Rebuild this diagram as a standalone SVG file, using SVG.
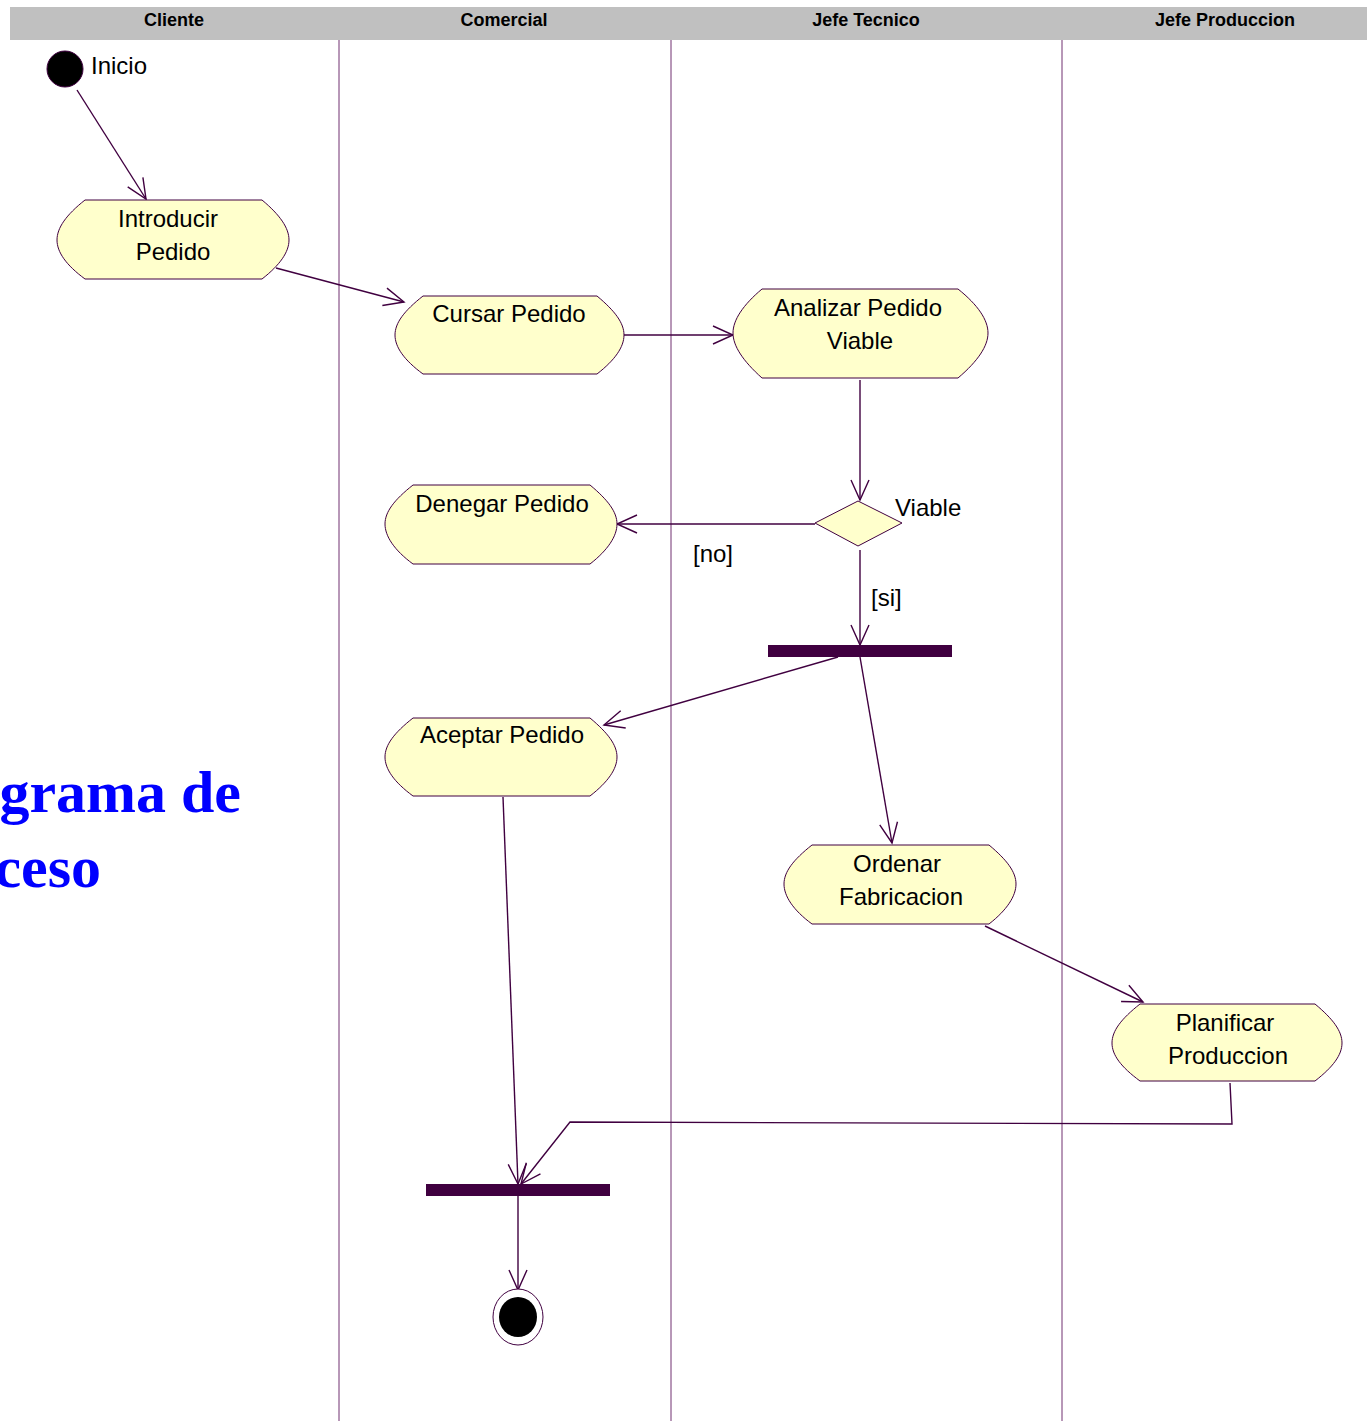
<svg xmlns="http://www.w3.org/2000/svg" width="1367" height="1421" viewBox="0 0 1367 1421">
<style>
.hdr{font-family:"Liberation Sans",Arial,sans-serif;font-weight:bold;font-size:18px;fill:#000;text-anchor:middle}
.lbl{font-family:"Liberation Sans",Arial,sans-serif;font-size:24px;fill:#000;text-anchor:middle}
.free{font-family:"Liberation Sans",Arial,sans-serif;font-size:24px;fill:#000}
.act{fill:#FFFFCC;stroke:#400040;stroke-width:1}
.lane{stroke:#703070;stroke-width:1}
.con{fill:none;stroke:#400040;stroke-width:1.4}
.bar{fill:#400040}
.big{font-family:"Liberation Serif","Times New Roman",serif;font-weight:bold;font-size:60px;fill:#0000FF;text-anchor:end}
</style>
<defs>
<marker id="arr" viewBox="-22 -11 24 22" refX="0" refY="0" markerWidth="24" markerHeight="22" markerUnits="userSpaceOnUse" orient="auto">
<path d="M-20,-9 L0,0 L-20,9" fill="none" stroke="#400040" stroke-width="1.4"/>
</marker>
</defs>
<rect width="1367" height="1421" fill="#FFFFFF"/>
<g id="header">
<rect x="10" y="7" width="1357" height="33" fill="#C0C0C0"/>
<text class="hdr" x="174" y="26">Cliente</text>
<text class="hdr" x="504" y="26">Comercial</text>
<text class="hdr" x="866" y="26">Jefe Tecnico</text>
<text class="hdr" x="1225" y="26">Jefe Produccion</text>
</g>
<g id="lanes">
<line class="lane" x1="339" y1="40" x2="339" y2="1421"/>
<line class="lane" x1="671" y1="40" x2="671" y2="1421"/>
<line class="lane" x1="1062" y1="40" x2="1062" y2="1421"/>
</g>
<g id="title">
<text class="big" x="241" y="812">grama de</text>
<text class="big" x="101" y="887">ceso</text>
</g>
<g id="connectors">
<line class="con" x1="77" y1="90" x2="146" y2="199" marker-end="url(#arr)"/>
<line class="con" x1="276" y1="268" x2="404" y2="302" marker-end="url(#arr)"/>
<line class="con" x1="624" y1="335" x2="733" y2="335" marker-end="url(#arr)"/>
<line class="con" x1="860" y1="380" x2="860" y2="500" marker-end="url(#arr)"/>
<line class="con" x1="815" y1="524" x2="617" y2="524" marker-end="url(#arr)"/>
<line class="con" x1="860" y1="550" x2="860" y2="645" marker-end="url(#arr)" stroke-width="1"/>
<line class="con" x1="838" y1="657" x2="604" y2="725" marker-end="url(#arr)"/>
<line class="con" x1="860" y1="657" x2="892" y2="843" marker-end="url(#arr)"/>
<line class="con" x1="985" y1="926" x2="1143" y2="1002" marker-end="url(#arr)"/>
<line class="con" x1="503" y1="797" x2="518" y2="1184" marker-end="url(#arr)"/>
<polyline class="con" points="1230,1083 1232,1124 570,1122 521,1184" marker-end="url(#arr)"/>
<line class="con" x1="518" y1="1196" x2="518" y2="1290" marker-end="url(#arr)"/>
</g>
<g id="start">
<circle cx="65" cy="69" r="18" fill="#000" stroke="#400040" stroke-width="1"/>
<text class="free" x="91" y="74">Inicio</text>
</g>
<g id="introducir">
<path class="act" d="M85,200 H262 C280,215 289,228 289,240 C289,252 280,265 262,279 H85 C66,265 57,252 57,240 C57,228 66,215 85,200 Z"/>
<text class="lbl" x="168" y="227">Introducir</text>
<text class="lbl" x="173" y="260">Pedido</text>
</g>
<g id="cursar">
<path class="act" d="M423,296 H597 C615,311 624,323 624,335 C624,347 615,360 597,374 H423 C404,360 395,347 395,335 C395,323 404,311 423,296 Z"/>
<text class="lbl" x="509" y="322">Cursar Pedido</text>
</g>
<g id="analizar">
<path class="act" d="M762,289 H958 C978,305 988,320 988,333 C988,346 978,361 958,378 H762 C743,361 733,346 733,333 C733,320 743,305 762,289 Z"/>
<text class="lbl" x="858" y="316">Analizar Pedido</text>
<text class="lbl" x="860" y="349">Viable</text>
</g>
<g id="decision">
<polygon points="858,501 902,523 858,546 815,523" fill="#FFFFCC" stroke="#400040" stroke-width="1"/>
<text class="free" x="895" y="516">Viable</text>
<text class="free" x="693" y="562">[no]</text>
<text class="free" x="871" y="606">[si]</text>
</g>
<g id="denegar">
<path class="act" d="M413,485 H590 C608,500 617,512 617,524 C617,536 608,550 590,564 H413 C394,550 385,536 385,524 C385,512 394,500 413,485 Z"/>
<text class="lbl" x="502" y="512">Denegar Pedido</text>
</g>
<g id="fork">
<rect class="bar" x="768" y="645" width="184" height="12"/>
</g>
<g id="aceptar">
<path class="act" d="M413,718 H590 C608,733 617,745 617,757 C617,769 608,782 590,796 H413 C394,782 385,769 385,757 C385,745 394,733 413,718 Z"/>
<text class="lbl" x="502" y="743">Aceptar Pedido</text>
</g>
<g id="ordenar">
<path class="act" d="M812,845 H989 C1007,860 1016,872 1016,884 C1016,896 1007,910 989,924 H812 C793,910 784,896 784,884 C784,872 793,860 812,845 Z"/>
<text class="lbl" x="897" y="872">Ordenar</text>
<text class="lbl" x="901" y="905">Fabricacion</text>
</g>
<g id="planificar">
<path class="act" d="M1140,1004 H1315 C1333,1019 1342,1031 1342,1043 C1342,1055 1333,1067 1315,1081 H1140 C1121,1067 1112,1055 1112,1043 C1112,1031 1121,1019 1140,1004 Z"/>
<text class="lbl" x="1225" y="1031">Planificar</text>
<text class="lbl" x="1228" y="1064">Produccion</text>
</g>
<g id="join">
<rect class="bar" x="426" y="1184" width="184" height="12"/>
</g>
<g id="end">
<ellipse cx="518" cy="1317" rx="25" ry="28" fill="#FFFFFF" stroke="#400040" stroke-width="1"/>
<ellipse cx="518" cy="1317" rx="19" ry="20" fill="#000"/>
</g>
</svg>
